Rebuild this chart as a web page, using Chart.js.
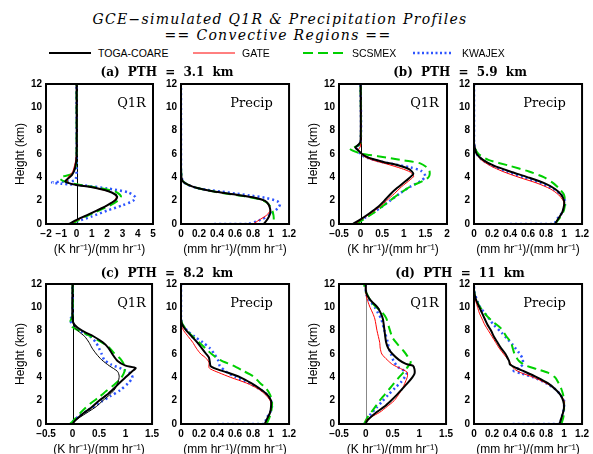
<!DOCTYPE html>
<html><head><meta charset="utf-8">
<script src="https://cdn.jsdelivr.net/npm/chart.js@4/dist/chart.umd.min.js"></script>
<style>
body{margin:0;width:593px;height:454px;background:#fff;position:relative;overflow:hidden}
canvas{position:absolute}
.c{position:absolute;white-space:nowrap;transform:translate(-50%,-50%);color:#000}
.l{position:absolute;white-space:nowrap;transform:translateY(-50%);color:#000}
.ttl{font-family:"DejaVu Serif";font-style:italic;font-size:14px;letter-spacing:1.3px}
.lg{font-family:"Liberation Sans";font-size:10.5px}
.sub{font-family:"DejaVu Serif";font-weight:bold;font-size:12px;word-spacing:4px}
.in{font-family:"DejaVu Serif";font-size:13px}
svg{position:absolute}
</style></head><body>
<script>
// ---------- DATA (x value, height km) ----------
const yTicks = [0, 2, 4, 6, 8, 10, 12];
const seriesNames = ["TOGA-COARE", "GATE", "SCSMEX", "KWAJEX"];
const panelTitles = ["(a) PTH = 3.1 km", "(b) PTH = 5.9 km", "(c) PTH = 8.2 km", "(d) PTH = 11 km"];

// (a) PTH 3.1 km
const toga_a_q1r = [[-0.5,0],[0,0.35],[1,0.95],[2,1.6],[2.55,2.05],[2.65,2.35],[2.3,2.7],[1.2,3.1],[0,3.35],[-0.5,3.5],[-0.75,3.65],[-0.55,3.9],[-0.3,4.2],[-0.1,4.8],[0,5.8],[0,12]];
const gate_a_q1r = [[-0.45,0],[0,0.3],[1,0.95],[2,1.6],[2.5,2.05],[2.6,2.4],[2.2,2.75],[1,3.15],[0,3.35],[-0.5,3.5],[-0.6,3.7],[-0.55,4.0],[-0.25,4.5],[-0.05,5.5],[0,6.2],[0,12]];
const scs_a_q1r  = [[-0.3,0],[0.2,0.4],[1.2,1.0],[2.2,1.6],[2.8,2.1],[2.9,2.4],[2.5,2.8],[1.0,3.2],[0,3.4],[-0.8,3.65],[-1.1,3.9],[-0.8,4.1],[-0.3,4.3],[-0.05,5.0],[0,6],[0,12]];
const kwa_a_q1r  = [[-0.3,0],[0,0.2],[1,0.65],[2,1.15],[3,1.6],[3.7,2.0],[3.85,2.3],[3.4,2.7],[2,3.05],[0.5,3.3],[-1,3.45],[-1.6,3.55],[-0.8,3.65],[-0.1,3.75],[0,4.5],[0,12]];
const toga_a_pr = [[0.92,0],[0.96,0.4],[0.99,0.9],[0.99,1.3],[0.97,1.7],[0.93,2.0],[0.82,2.25],[0.62,2.5],[0.35,2.8],[0.17,3.1],[0.07,3.4],[0.02,3.65],[0.005,4.0],[0,5],[0,12]];
const gate_a_pr = [[0.8,0],[0.87,0.35],[0.95,0.75],[0.99,1.15],[0.98,1.5],[0.95,1.85],[0.9,2.1],[0.8,2.28],[0.62,2.5],[0.35,2.8],[0.17,3.1],[0.07,3.4],[0.02,3.65],[0.005,4.0],[0,5],[0,12]];
const scs_a_pr  = [[0.76,0],[1.02,0],[1.03,0.5],[1.02,1.0],[1.0,1.4],[0.96,1.8],[0.88,2.1],[0.72,2.35],[0.55,2.55],[0.35,2.8],[0.17,3.1],[0.07,3.4],[0.02,3.7],[0.005,4.1],[0,5],[0,12]];
const kwa_a_pr  = [[0.37,0],[0.74,0],[0.88,0.35],[0.99,0.8],[1.08,1.4],[1.1,1.7],[1.07,1.95],[0.93,2.25],[0.76,2.45],[0.6,2.62],[0.45,2.78],[0.3,2.92],[0.17,3.1],[0.08,3.35],[0.03,3.6],[0.01,3.9],[0,4.5],[0,12]];

// (b) PTH 5.9 km
const toga_b_q1r = [[-0.18,0],[0,0.4],[0.2,0.9],[0.4,1.45],[0.55,2.0],[0.7,2.6],[0.85,3.1],[1.05,3.7],[1.22,4.3],[1.12,4.7],[0.85,5.05],[0.55,5.3],[0.3,5.55],[0.12,5.8],[0.02,6.05],[-0.05,6.3],[-0.12,6.55],[-0.05,6.8],[0,7.1],[0,12]];
const gate_b_q1r = [[-0.12,0],[0,0.35],[0.25,0.95],[0.45,1.5],[0.6,2.0],[0.78,2.6],[0.95,3.2],[1.15,3.8],[1.23,4.1],[1.15,4.45],[0.95,4.75],[0.6,5.15],[0.3,5.45],[0.1,5.75],[0,6.05],[-0.05,6.35],[0,6.7],[0,12]];
const scs_b_q1r  = [[-0.1,0],[0.05,0.35],[0.3,0.95],[0.5,1.5],[0.68,2.0],[0.9,2.6],[1.15,3.2],[1.45,3.7],[1.57,4.0],[1.6,4.3],[1.58,4.7],[1.38,5.2],[1.0,5.45],[0.6,5.7],[0.2,5.92],[0,6.05],[-0.25,6.45],[-0.1,6.65],[0,6.9],[0,12]];
const kwa_b_q1r  = [[-0.1,0],[0.02,0.35],[0.3,1.0],[0.5,1.5],[0.68,2.0],[0.9,2.6],[1.15,3.2],[1.4,3.7],[1.5,4.1],[1.4,4.55],[1.15,4.85],[0.8,5.1],[0.4,5.4],[0.1,5.75],[0,6.0],[-0.08,6.4],[-0.1,6.6],[0,6.9],[0,12]];
const toga_b_pr = [[0.9,0],[0.94,0.5],[0.98,1.0],[1.0,1.6],[1.0,2.0],[0.97,2.5],[0.9,3.0],[0.78,3.5],[0.6,4.0],[0.4,4.5],[0.22,5.0],[0.1,5.5],[0.03,6.0],[0.01,6.5],[0,7],[0,12]];
const gate_b_pr = [[0.9,0],[0.94,0.5],[0.98,1.0],[1.0,1.6],[0.99,2.0],[0.94,2.5],[0.85,3.0],[0.7,3.5],[0.5,4.0],[0.32,4.5],[0.18,5.0],[0.08,5.5],[0.03,6.0],[0.01,6.5],[0,7],[0,12]];
const scs_b_pr  = [[0.9,0],[0.95,0.5],[0.99,1.0],[1.01,1.6],[1.01,2.0],[1.0,2.5],[0.95,3.0],[0.88,3.5],[0.78,4.0],[0.61,4.5],[0.39,5.0],[0.16,5.5],[0.05,6.0],[0.01,6.5],[0,7],[0,12]];
const kwa_b_pr  = [[0.4,0],[0.88,0],[0.93,0.5],[0.98,1.0],[1.01,1.6],[1.01,2.0],[0.97,2.5],[0.88,3.0],[0.74,3.5],[0.55,4.0],[0.36,4.5],[0.2,5.0],[0.09,5.5],[0.03,6.0],[0.01,6.5],[0,7],[0,12]];

// (c) PTH 8.2 km
const toga_c_q1r = [[0,0],[0.05,0.3],[0.2,0.9],[0.35,1.4],[0.5,2.0],[0.65,2.5],[0.77,3.0],[0.88,3.5],[1.0,4.0],[1.12,4.5],[1.19,4.8],[1.0,5.0],[0.85,5.4],[0.75,6.0],[0.68,6.5],[0.57,7.0],[0.4,7.5],[0.18,8.0],[0.04,8.5],[0,9],[0,12]];
const gate_c_q1r = [[0,0],[0.05,0.3],[0.25,0.9],[0.45,1.5],[0.57,2.0],[0.7,2.5],[0.8,3.0],[0.86,3.6],[0.88,4.1],[0.85,4.5],[0.69,5.0],[0.55,5.5],[0.45,6.0],[0.37,6.5],[0.31,7.0],[0.23,7.5],[0.1,8.0],[0.03,8.4],[0,8.8],[0,12]];
const scs_c_q1r  = [[-0.05,0],[0,0.2],[0.17,1.05],[0.35,1.8],[0.5,2.3],[0.63,2.8],[0.78,3.35],[0.91,3.9],[0.98,4.5],[0.98,5.0],[0.9,5.6],[0.78,6.1],[0.68,6.6],[0.55,7.0],[0.35,7.5],[0.12,8.0],[0,8.3],[-0.04,8.8],[0,9.3],[0,12]];
const kwa_c_q1r  = [[0,0.2],[0.1,0.6],[0.3,1.2],[0.54,1.9],[0.72,2.4],[0.9,2.9],[1.05,3.5],[1.13,3.95],[1.1,4.3],[0.97,4.65],[0.73,5.1],[0.6,5.5],[0.55,6.0],[0.5,6.5],[0.44,7.0],[0.33,7.5],[0.14,8.0],[0.04,8.4],[-0.05,8.9],[0,9.3],[0,12]];
const toga_c_pr = [[0.93,0],[0.96,0.5],[0.99,1.0],[1.0,1.5],[1.0,2.0],[0.96,2.5],[0.88,3.0],[0.78,3.5],[0.66,4.0],[0.5,4.45],[0.4,4.7],[0.33,4.95],[0.32,5.3],[0.31,5.7],[0.28,6.0],[0.23,6.5],[0.18,7.0],[0.12,7.5],[0.06,8.0],[0.015,8.5],[0,9],[0,12]];
const gate_c_pr = [[0.93,0],[0.96,0.5],[0.99,1.0],[1.0,1.6],[0.99,2.0],[0.94,2.5],[0.86,3.0],[0.73,3.5],[0.55,4.0],[0.42,4.4],[0.33,4.7],[0.31,4.85],[0.31,5.3],[0.27,5.7],[0.22,6.0],[0.17,6.5],[0.13,7.0],[0.08,7.5],[0.03,8.0],[0.005,8.4],[0,9],[0,12]];
const scs_c_pr  = [[0.95,0],[0.98,0.5],[1.0,1.0],[1.01,1.5],[1.01,2.0],[0.99,2.5],[0.95,3.0],[0.88,3.5],[0.8,4.1],[0.68,4.6],[0.58,5.0],[0.43,5.5],[0.34,6.0],[0.27,6.5],[0.2,7.0],[0.13,7.5],[0.07,8.0],[0.02,8.5],[0,9],[0,12]];
const kwa_c_pr  = [[0.4,0],[0.92,0],[0.95,0.5],[0.99,1.0],[1.01,1.5],[1.0,2.0],[0.96,2.5],[0.87,3.0],[0.76,3.5],[0.61,4.0],[0.5,4.5],[0.43,5.0],[0.41,5.5],[0.37,6.0],[0.32,6.5],[0.24,7.0],[0.15,7.5],[0.07,8.0],[0.02,8.5],[0,9],[0,12]];

// (d) PTH 11 km
const toga_d_q1r = [[0,0.1],[0.05,0.4],[0.2,1.0],[0.35,1.5],[0.47,2.0],[0.58,2.5],[0.68,3.0],[0.78,3.5],[0.87,4.0],[0.91,4.3],[0.91,4.7],[0.88,5.0],[0.75,5.15],[0.62,5.5],[0.5,6.0],[0.42,6.5],[0.38,7.0],[0.35,8.0],[0.32,9.0],[0.28,9.5],[0.22,10.0],[0.11,10.5],[0.03,11.0],[0,11.5],[0,12]];
const gate_d_q1r = [[0,0.3],[0.1,0.6],[0.26,1.0],[0.4,1.5],[0.53,2.0],[0.61,2.5],[0.68,3.0],[0.74,3.6],[0.78,4.1],[0.77,4.45],[0.65,4.75],[0.5,5.1],[0.4,5.5],[0.3,6.0],[0.27,6.5],[0.26,7.0],[0.21,8.0],[0.17,9.0],[0.13,9.5],[0.08,10.0],[0.04,10.5],[0.01,11.0],[0,11.5],[0,12]];
const scs_d_q1r  = [[-0.03,0],[0,0.3],[0.05,0.7],[0.15,1.3],[0.26,2.0],[0.35,2.5],[0.44,3.0],[0.53,3.5],[0.62,4.0],[0.72,4.5],[0.8,5.0],[0.84,5.3],[0.78,5.8],[0.7,6.3],[0.6,6.8],[0.5,7.4],[0.44,8.2],[0.38,9.1],[0.28,9.7],[0.2,10.0],[0.1,10.5],[0.04,11.0],[-0.02,11.5],[-0.03,12]];
const kwa_d_q1r  = [[-0.02,0],[0.02,0.4],[0.1,0.9],[0.2,1.4],[0.3,1.9],[0.42,2.5],[0.55,3.1],[0.66,3.6],[0.74,4.1],[0.76,4.4],[0.6,4.9],[0.52,5.4],[0.47,6.0],[0.43,6.5],[0.41,7.0],[0.35,8.0],[0.29,9.0],[0.23,9.5],[0.17,10.0],[0.09,10.5],[0.02,11.0],[0,11.5],[0,12]];
const toga_d_pr = [[0.95,0],[0.97,0.5],[0.99,1.0],[1.0,1.5],[0.99,2.0],[0.96,2.5],[0.9,3.0],[0.82,3.5],[0.7,4.0],[0.56,4.5],[0.47,4.8],[0.4,5.1],[0.39,5.4],[0.37,5.7],[0.35,6.0],[0.3,6.5],[0.26,7.0],[0.22,7.5],[0.19,8.0],[0.15,8.5],[0.12,9.0],[0.09,9.5],[0.06,10.0],[0.03,10.5],[0.01,11.0],[0,11.5],[0,12]];
const gate_d_pr = [[0.95,0],[0.97,0.5],[0.99,1.0],[1.0,1.5],[1.0,2.0],[0.96,2.5],[0.9,3.0],[0.8,3.5],[0.66,4.0],[0.52,4.4],[0.45,4.7],[0.42,5.0],[0.38,5.5],[0.33,6.0],[0.28,6.5],[0.24,7.0],[0.2,7.5],[0.16,8.0],[0.12,8.5],[0.09,9.0],[0.06,9.5],[0.04,10.0],[0.02,10.5],[0,11],[0,12]];
const scs_d_pr  = [[0.97,0],[0.99,0.5],[1.0,1.0],[1.0,1.5],[1.0,2.0],[0.99,2.5],[0.97,3.0],[0.94,3.5],[0.9,4.0],[0.82,4.4],[0.7,4.7],[0.58,5.0],[0.5,5.4],[0.45,6.0],[0.43,6.5],[0.41,7.0],[0.36,7.5],[0.3,8.2],[0.22,8.7],[0.15,9.2],[0.1,9.7],[0.06,10.1],[0.03,10.6],[0.01,11.0],[0,11.5],[0,12]];
const kwa_d_pr  = [[0.43,0],[0.95,0],[0.97,0.5],[0.99,1.0],[1.0,1.5],[1.0,2.0],[0.96,2.5],[0.9,3.0],[0.8,3.5],[0.66,4.0],[0.52,4.35],[0.44,4.55],[0.5,4.8],[0.54,5.1],[0.54,5.6],[0.5,6.1],[0.46,6.5],[0.43,6.8],[0.37,7.3],[0.31,7.8],[0.22,8.5],[0.17,9.0],[0.13,9.4],[0.07,10.0],[0.04,10.5],[0.015,11.0],[0,11.5],[0,12]];

// ---------- STYLE ----------
const COL = {toga:'#000000', gate:'#ff0000', scs:'#00d000', kwa:'#2d55ff'};
function styles(gateColor){
  return [
    {borderColor:COL.toga, borderWidth:2},
    {borderColor:gateColor, borderWidth:1},
    {borderColor:COL.scs, borderWidth:2, borderDash:[9,5]},
    {borderColor:COL.kwa, borderWidth:2.5, borderDash:[2,3]}
  ];
}

const Q1R_TITLE = '(K hr\u207B\u00B9)/(mm hr\u207B\u00B9)';
const PR_TITLE = '(mm hr\u207B\u00B9)/(mm hr\u207B\u00B9)';

const panels = [
  {L:46, R:153, T:84, B:224, min:-2, max:5, step:1, q:true, data:[toga_a_q1r,gate_a_q1r,scs_a_q1r,kwa_a_q1r], zero:'#000', gate:COL.gate},
  {L:181, R:290, T:84, B:224, min:0, max:1.2, step:0.2, q:false, data:[toga_a_pr,gate_a_pr,scs_a_pr,kwa_a_pr], gate:COL.gate},
  {L:339, R:447, T:84, B:224, min:-0.5, max:2, step:0.5, q:true, data:[toga_b_q1r,gate_b_q1r,scs_b_q1r,kwa_b_q1r], zero:'#000', gate:COL.gate},
  {L:474, R:583, T:84, B:224, min:0, max:1.2, step:0.2, q:false, data:[toga_b_pr,gate_b_pr,scs_b_pr,kwa_b_pr], gate:COL.gate},
  {L:46, R:153, T:284, B:424, min:-0.5, max:1.5, step:0.5, q:true, data:[toga_c_q1r,gate_c_q1r,scs_c_q1r,kwa_c_q1r], zero:'#000', gate:'#000'},
  {L:181, R:290, T:284, B:424, min:0, max:1.2, step:0.2, q:false, data:[toga_c_pr,gate_c_pr,scs_c_pr,kwa_c_pr], gate:COL.gate},
  {L:339, R:447, T:284, B:424, min:-0.5, max:1.5, step:0.5, q:true, data:[toga_d_q1r,gate_d_q1r,scs_d_q1r,kwa_d_q1r], zero:'#888', gate:COL.gate},
  {L:474, R:583, T:284, B:424, min:0, max:1.2, step:0.2, q:false, data:[toga_d_pr,gate_d_pr,scs_d_pr,kwa_d_pr], gate:COL.gate}
];

const framePlugin = {
  id:'frame',
  beforeDatasetsDraw(chart){
    const z = chart.options.plugins.frame.zero;
    if(!z) return;
    const {ctx, chartArea:a} = chart;
    const x = Math.round(chart.scales.x.getPixelForValue(0)) + 0.5;
    ctx.save(); ctx.strokeStyle = z; ctx.lineWidth = 1;
    ctx.beginPath(); ctx.moveTo(x, a.top); ctx.lineTo(x, a.bottom); ctx.stroke(); ctx.restore();
  },
  afterDraw(chart){
    const {ctx, chartArea:a} = chart;
    ctx.save(); ctx.strokeStyle = '#000'; ctx.lineWidth = 2;
    ctx.strokeRect(a.left, a.top, a.right-a.left, a.bottom-a.top); ctx.restore();
  }
};

const tickFont = {family:'Liberation Sans', weight:'bold', size:10};
function fmt(v){ const r = Math.round(v*100)/100; return (r<0?'\u2212':'') + Math.abs(r); }

panels.forEach(p => {
  const ML=40, MR=10, MT=10, MB=38;
  const w = p.R-p.L+ML+MR, h = p.B-p.T+MT+MB;
  const c = document.createElement('canvas');
  c.width = w; c.height = h;
  c.style.left = (p.L-ML)+'px'; c.style.top = (p.T-MT)+'px';
  c.style.width = w+'px'; c.style.height = h+'px';
  document.body.appendChild(c);
  const st = styles(p.gate);
  const datasets = p.data.map((d,i) => Object.assign({
    label: seriesNames[i],
    data: d.map(([x,y]) => ({x, y})),
    showLine:true, pointRadius:0, fill:false, tension:0.25
  }, st[i]));
  new Chart(c, {
    type:'scatter',
    data:{datasets},
    options:{
      responsive:false, animation:false, devicePixelRatio:1,
      layout:{padding:{left:0, right:MR, top:MT, bottom:0}},
      plugins:{legend:{display:false}, tooltip:{enabled:false}, frame:{zero:p.q ? p.zero : null}},
      scales:{
        x:{type:'linear', min:p.min, max:p.max,
           ticks:{stepSize:p.step, autoSkip:false, maxRotation:0, padding:4, font:tickFont, color:'#000', callback:fmt},
           grid:{display:false, drawTicks:false}, border:{display:false},
           title:{display:true, text:p.q ? Q1R_TITLE : PR_TITLE, color:'#000', font:{family:'Liberation Sans', size:12}, padding:{top:0, bottom:5}},
           afterFit(s){ s.height = MB; }},
        y:{type:'linear', min:0, max:12,
           afterBuildTicks(s){ s.ticks = yTicks.map(v => ({value:v})); },
           ticks:{padding:4, font:tickFont, color:'#000'},
           grid:{display:false, drawTicks:false}, border:{display:false},
           title:{display:p.q, text:'Height (km)', color:'#000', font:{family:'Liberation Sans', size:12}, padding:{top:7, bottom:0}},
           afterFit(s){ s.width = ML; }}
      }
    },
    plugins:[framePlugin]
  });
});

// ---------- TEXT ----------
function text(cls, base, txt, x, y){
  const d = document.createElement('div');
  d.className = base + ' ' + cls; d.textContent = txt;
  d.style.left = x+'px'; d.style.top = y+'px';
  document.body.appendChild(d);
}
text('ttl','c','GCE\u2212simulated Q1R & Precipitation Profiles', 280, 19);
text('ttl','c','== Convective Regions ==', 278, 35);

const legendPos = [[49,91,98],[193,235,242],[303,347,352],[413,453,462]];
const legendStyle = [
  {c:COL.toga, w:2, dash:''},
  {c:COL.gate, w:1, dash:''},
  {c:COL.scs, w:2, dash:'10,5'},
  {c:COL.kwa, w:2.5, dash:'2,2.5'}
];
legendPos.forEach(([x1,x2,tx],i) => {
  const s = document.createElementNS('http://www.w3.org/2000/svg','svg');
  s.setAttribute('width', x2-x1); s.setAttribute('height', 6);
  s.style.left = x1+'px'; s.style.top = '50px';
  const ln = document.createElementNS('http://www.w3.org/2000/svg','line');
  ln.setAttribute('x1',0); ln.setAttribute('x2',x2-x1); ln.setAttribute('y1',3); ln.setAttribute('y2',3);
  ln.setAttribute('stroke', legendStyle[i].c); ln.setAttribute('stroke-width', legendStyle[i].w);
  if(legendStyle[i].dash) ln.setAttribute('stroke-dasharray', legendStyle[i].dash);
  s.appendChild(ln); document.body.appendChild(s);
  text('lg','l',seriesNames[i], tx, 53);
});

const subPos = [[167,72],[460,72],[167,273],[460,273]];
subPos.forEach(([x,y],i) => text('sub','c',panelTitles[i], x, y));
[[131.5,102],[424.5,102],[131.5,302],[424.5,302]].forEach(([x,y]) => text('in','c','Q1R', x, y));
[[251.5,102],[544.5,102],[251.5,302],[544.5,302]].forEach(([x,y]) => text('in','c','Precip', x, y));
</script>
</body></html>
